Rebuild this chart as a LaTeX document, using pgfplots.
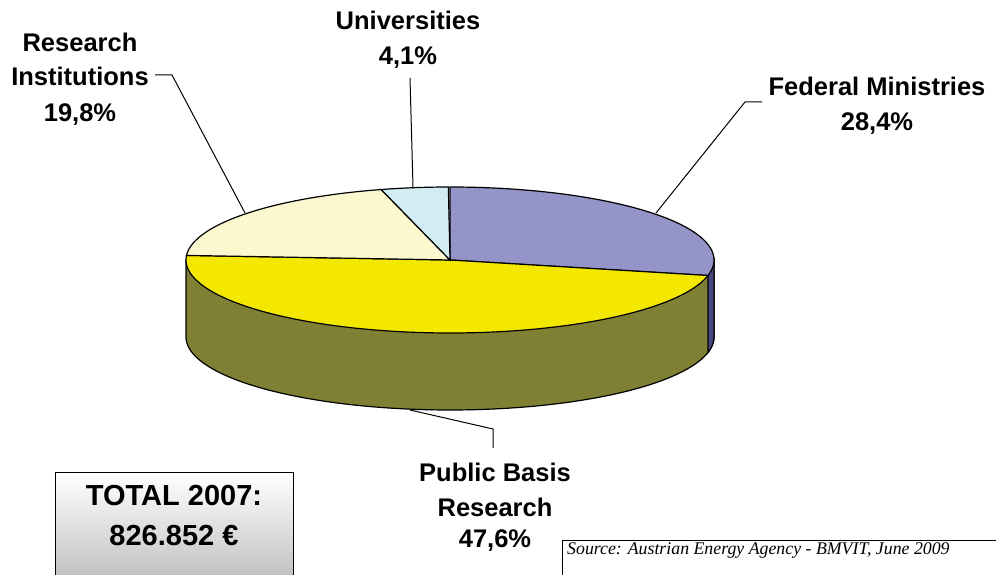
\documentclass[border=0pt]{standalone}
\usepackage{pgfplots}
\pgfplotsset{compat=1.18}
\usepackage{fontspec}
\setmainfont{Liberation Sans}
\newfontfamily\srcfont{Liberation Serif}
\definecolor{cPur}{RGB}{148,148,200}
\definecolor{cPurSide}{RGB}{72,72,128}
\definecolor{cYel}{RGB}{245,232,0}
\definecolor{cYelSide}{RGB}{128,128,52}
\definecolor{cLYel}{RGB}{251,248,208}
\definecolor{cCyan}{RGB}{210,236,243}
\begin{document}
\begin{tikzpicture}
% data (percent)
\def\vFed{28.4}
\def\vPub{47.6}
\def\vRes{19.8}
\def\vUni{4.1}
% geometry (pixel units)
\def\cx{450}\def\cy{315}\def\ra{264}\def\rb{73}\def\dep{77}
\pgfmathsetmacro\aA{90-3.6*\vFed}
\pgfmathsetmacro\aB{\aA-3.6*\vPub}
\pgfmathsetmacro\aC{\aB-3.6*\vRes}
\pgfmathsetmacro\aD{\aC-3.6*\vUni}
\pgfmathsetmacro\pAx{\cx+\ra*cos(\aA)}
\pgfmathsetmacro\pAy{\cy+\rb*sin(\aA)}
\pgfmathsetmacro\xL{\cx-\ra}
\pgfmathsetmacro\xR{\cx+\ra}
\begin{axis}[at={(0,0)}, anchor=south west, width=996pt, height=575pt,
  scale only axis, xmin=0, xmax=996, ymin=0, ymax=575, hide axis, clip=false]
% side wall (olive)
\addplot[fill=cYelSide, draw=black, line width=1.2pt, domain=-180:0, samples=120]
  ({\cx+\ra*cos(x)},{\cy-\dep+\rb*sin(x)}) -- (axis cs:\xR,\cy) -- (axis cs:\xL,\cy) -- cycle;
% side wall (purple part)
\addplot[fill=cPurSide, draw=black, line width=1.2pt, domain=\aA:0, samples=20]
  ({\cx+\ra*cos(x)},{\cy-\dep+\rb*sin(x)}) -- (axis cs:\xR,\cy) -- (axis cs:\pAx,\pAy) -- cycle;
% top slices
\addplot[fill=cPur, draw=black, line width=1.2pt, domain=\aA:90, samples=80]
  ({\cx+\ra*cos(x)},{\cy+\rb*sin(x)}) -- (axis cs:\cx,\cy) -- cycle;
\addplot[fill=cYel, draw=black, line width=1.2pt, domain=\aB:\aA, samples=120]
  ({\cx+\ra*cos(x)},{\cy+\rb*sin(x)}) -- (axis cs:\cx,\cy) -- cycle;
\addplot[fill=cLYel, draw=black, line width=1.2pt, domain=\aC:\aB, samples=60]
  ({\cx+\ra*cos(x)},{\cy+\rb*sin(x)}) -- (axis cs:\cx,\cy) -- cycle;
\addplot[fill=cCyan, draw=black, line width=1.2pt, domain=\aD:\aC, samples=20]
  ({\cx+\ra*cos(x)},{\cy+\rb*sin(x)}) -- (axis cs:\cx,\cy) -- cycle;
% leader lines
\addplot[black, line width=1pt] coordinates {(155,500) (172,500) (245,362)};
\addplot[black, line width=1pt] coordinates {(410,497) (413,388)};
\addplot[black, line width=1pt] coordinates {(762,473) (745,473) (656,362)};
\addplot[black, line width=1pt] coordinates {(410,165) (493,146) (493,127)};
% labels
\begin{scope}[every node/.style={anchor=base, font=\fontsize{25.5}{30}\selectfont\bfseries}]
\node at (axis cs:80,523) {Research};
\node at (axis cs:80,489) {Institutions};
\node at (axis cs:80,453) {19,8\%};
\node at (axis cs:408,545) {Universities};
\node at (axis cs:408,510) {4,1\%};
\node at (axis cs:877,479) {Federal Ministries};
\node at (axis cs:877,444) {28,4\%};
\node at (axis cs:495,93) {Public Basis};
\node at (axis cs:495,58) {Research};
\node at (axis cs:495,27) {47,6\%};
\end{scope}
% total box
\draw[line width=1pt, top color=white, bottom color=gray!50] (axis cs:55,102) rectangle (axis cs:293,-6);
\node[anchor=base, font=\fontsize{29}{34}\selectfont\bfseries] at (axis cs:174,69) {TOTAL 2007:};
\node[anchor=base, font=\fontsize{29}{34}\selectfont\bfseries] at (axis cs:174,29) {826.852 €};
% source box
\draw[line width=0.8pt, fill=white] (axis cs:562,35) rectangle (axis cs:1010,-6);
\node[anchor=base west, inner sep=0pt, font=\srcfont\itshape\fontsize{17.8}{20}\selectfont] at (axis cs:567,20) {Source: Austrian Energy Agency - BMVIT, June 2009};
\end{axis}
\pgfresetboundingbox
\useasboundingbox (0,0) rectangle (996pt,575pt);
\end{tikzpicture}
\end{document}
